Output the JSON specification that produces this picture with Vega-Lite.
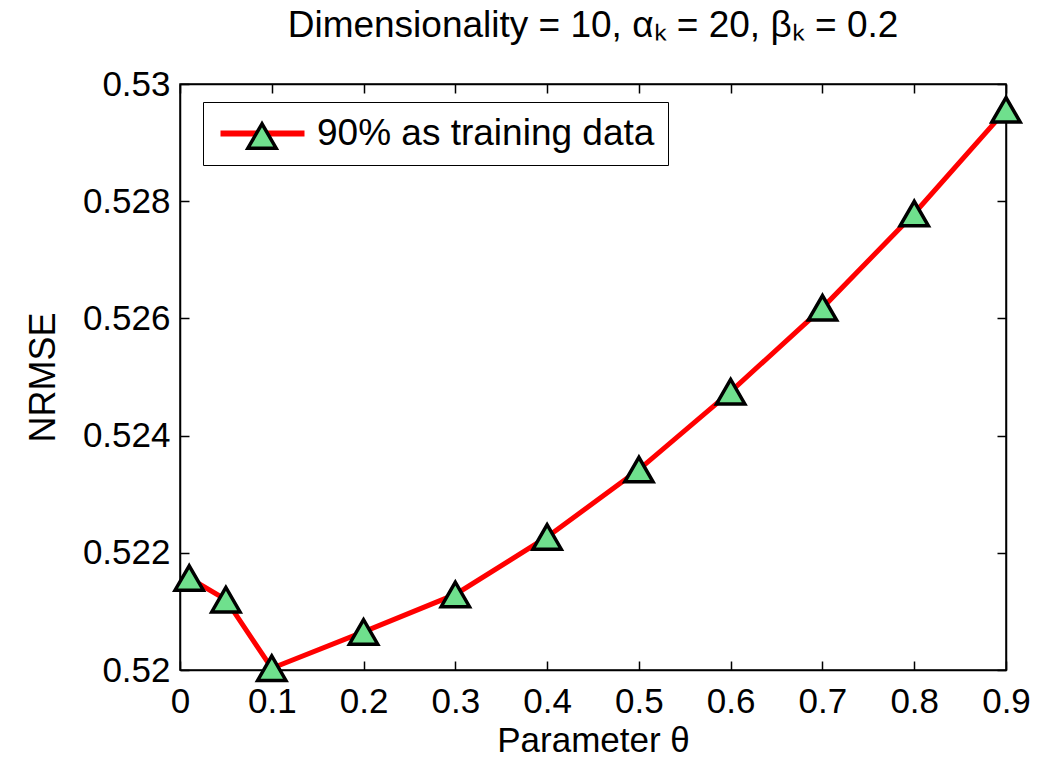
{
  "$schema": "https://vega.github.io/schema/vega-lite/v6.json",
  "autosize": "none",
  "width": 826,
  "height": 586,
  "padding": {"left": 180, "top": 84, "right": 42, "bottom": 88},
  "background": "white",
  "title": {
    "text": "Dimensionality = 10, αₖ = 20,  βₖ = 0.2",
    "font": "Liberation Sans",
    "fontSize": 37,
    "fontWeight": "normal",
    "color": "black",
    "anchor": "middle",
    "frame": "group",
    "offset": 22
  },
  "data": {
    "values": [
      {"theta": 0.01, "nrmse": 0.52157, "series": "90% as training data", "marker": "90% as training data"},
      {"theta": 0.05, "nrmse": 0.52120, "series": "90% as training data", "marker": "90% as training data"},
      {"theta": 0.1, "nrmse": 0.52003, "series": "90% as training data", "marker": "90% as training data"},
      {"theta": 0.2, "nrmse": 0.52065, "series": "90% as training data", "marker": "90% as training data"},
      {"theta": 0.3, "nrmse": 0.52129, "series": "90% as training data", "marker": "90% as training data"},
      {"theta": 0.4, "nrmse": 0.52227, "series": "90% as training data", "marker": "90% as training data"},
      {"theta": 0.5, "nrmse": 0.52342, "series": "90% as training data", "marker": "90% as training data"},
      {"theta": 0.6, "nrmse": 0.52475, "series": "90% as training data", "marker": "90% as training data"},
      {"theta": 0.7, "nrmse": 0.52618, "series": "90% as training data", "marker": "90% as training data"},
      {"theta": 0.8, "nrmse": 0.52779, "series": "90% as training data", "marker": "90% as training data"},
      {"theta": 0.9, "nrmse": 0.52956, "series": "90% as training data", "marker": "90% as training data"}
    ]
  },
  "layer": [
    {
      "mark": {"type": "line", "strokeWidth": 5, "clip": false},
      "encoding": {
        "x": {
          "field": "theta", "type": "quantitative",
          "scale": {"domain": [0, 0.9], "nice": false, "zero": false},
          "axis": {
            "orient": "bottom",
            "values": [0, 0.1, 0.2, 0.3, 0.4, 0.5, 0.6, 0.7, 0.8, 0.9],
            "format": "~g",
            "labelFlush": false,
            "title": "Parameter θ",
            "titlePadding": 4,
            "titleFontSize": 35,
            "labelPadding": 23
          }
        },
        "y": {
          "field": "nrmse", "type": "quantitative",
          "scale": {"domain": [0.52, 0.53], "nice": false, "zero": false},
          "axis": {
            "orient": "left",
            "values": [0.52, 0.522, 0.524, 0.526, 0.528, 0.53],
            "format": ".3~f",
            "labelFlush": false,
            "title": "NRMSE",
            "titlePadding": 20,
            "labelPadding": 19
          }
        },
        "stroke": {
          "field": "series", "type": "nominal",
          "scale": {"range": ["#ff0000"]},
          "legend": {
            "title": null,
            "orient": "none",
            "legendX": 23,
            "legendY": 18,
            "symbolType": "M-1,0H5",
            "symbolSize": 784,
            "symbolStrokeWidth": 6,
            "symbolStrokeColor": "#ff0000",
            "symbolFillColor": "transparent",
            "labelFontSize": 37,
            "labelFont": "Liberation Sans",
            "labelColor": "black",
            "labelOffset": 64,
            "labelLimit": 1000,
            "padding": 13,
            "strokeColor": "black",
            "fillColor": "white",
            "zindex": 0
          }
        }
      }
    },
    {
      "mark": {"type": "point", "shape": "triangle-up", "size": 800, "filled": true, "opacity": 1, "stroke": "black", "strokeWidth": 3.5, "clip": false},
      "encoding": {
        "x": {
          "field": "theta", "type": "quantitative",
          "axis": {"orient": "top", "labels": false, "title": null, "values": [0, 0.1, 0.2, 0.3, 0.4, 0.5, 0.6, 0.7, 0.8, 0.9]}
        },
        "y": {
          "field": "nrmse", "type": "quantitative",
          "axis": {"orient": "right", "labels": false, "title": null, "values": [0.52, 0.522, 0.524, 0.526, 0.528, 0.53]}
        },
        "fill": {
          "field": "marker", "type": "nominal",
          "scale": {"range": ["#6fe08d"]},
          "legend": {
            "title": null,
            "orient": "none",
            "legendX": 66,
            "legendY": 36,
            "symbolType": "triangle-up",
            "symbolSize": 800,
            "symbolStrokeWidth": 3.5,
            "symbolStrokeColor": "black",
            "symbolFillColor": "#6fe08d",
            "symbolOpacity": 1,
            "labelExpr": "''",
            "labelFontSize": 1,
            "labelOffset": 0,
            "padding": 0,
            "zindex": 1
          }
        }
      }
    }
  ],
  "resolve": {"axis": {"x": "independent", "y": "independent"}},
  "config": {
    "view": {"stroke": "black", "strokeWidth": 1.5},
    "font": "Liberation Sans",
    "axis": {
      "grid": false,
      "domainColor": "black",
      "domainWidth": 1.5,
      "tickColor": "black",
      "tickWidth": 1.5,
      "tickSize": -9,
      "labelFont": "Liberation Sans",
      "labelFontSize": 35,
      "labelColor": "black",
      "titleFont": "Liberation Sans",
      "titleFontSize": 36,
      "titleFontWeight": "normal",
      "titleColor": "black"
    }
  }
}
